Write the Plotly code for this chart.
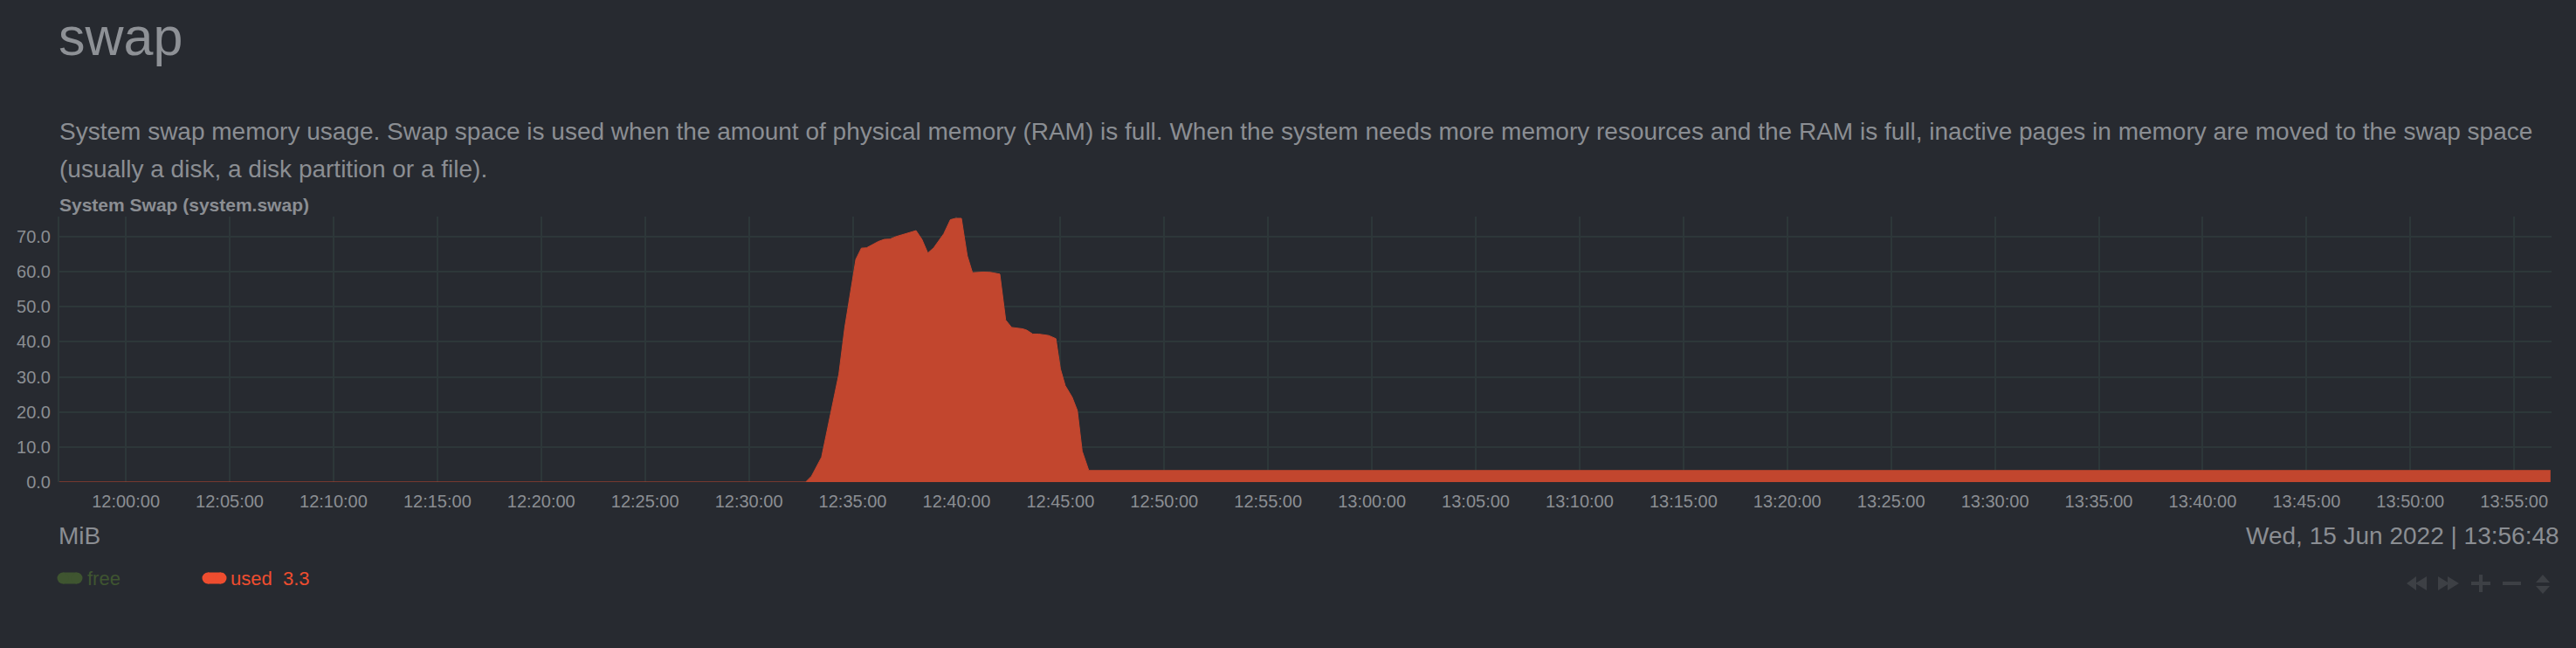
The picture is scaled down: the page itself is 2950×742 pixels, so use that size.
import plotly.graph_objects as go

# ---------------- data ----------------
used_times = [
    "2022-06-15 11:56:48", "2022-06-15 12:32:44", "2022-06-15 12:33:01", "2022-06-15 12:33:30",
    "2022-06-15 12:34:20", "2022-06-15 12:34:37", "2022-06-15 12:35:09", "2022-06-15 12:35:25",
    "2022-06-15 12:35:40", "2022-06-15 12:36:14", "2022-06-15 12:36:31", "2022-06-15 12:36:48",
    "2022-06-15 12:37:05", "2022-06-15 12:37:30", "2022-06-15 12:38:03", "2022-06-15 12:38:20",
    "2022-06-15 12:38:37", "2022-06-15 12:38:54", "2022-06-15 12:39:23", "2022-06-15 12:39:42",
    "2022-06-15 12:39:57", "2022-06-15 12:40:14", "2022-06-15 12:40:31", "2022-06-15 12:40:46",
    "2022-06-15 12:41:17", "2022-06-15 12:41:38", "2022-06-15 12:42:05", "2022-06-15 12:42:22",
    "2022-06-15 12:42:39", "2022-06-15 12:43:11", "2022-06-15 12:43:23", "2022-06-15 12:43:40",
    "2022-06-15 12:43:57", "2022-06-15 12:44:26", "2022-06-15 12:44:47", "2022-06-15 12:45:00",
    "2022-06-15 12:45:14", "2022-06-15 12:45:34", "2022-06-15 12:45:49", "2022-06-15 12:46:03",
    "2022-06-15 12:46:22", "2022-06-15 13:56:45",
]
used_values = [
    0.0, 0.0, 1.7, 7.1,
    30.8, 44.1, 63.5, 66.7,
    66.8, 68.6, 69.2, 69.3,
    70.0, 70.8, 71.7, 69.2,
    65.3, 66.8, 70.8, 74.8,
    75.2, 75.2, 64.5, 59.7,
    59.9, 59.8, 59.3, 46.2,
    44.1, 43.7, 43.3, 42.2,
    42.2, 41.8, 40.9, 32.3,
    27.5, 24.2, 20.4, 8.8,
    3.3, 3.3,
]
x_range = ["2022-06-15 11:56:48", "2022-06-15 13:56:48"]
y_range = [0, 75.7]
legend_names = ["free", "used"]
legend_value_used = "3.3"

# ---------------- style ----------------
W, H = 2950, 742
L, R, T, B = 68, 2922, 248, 552
BG = "#272a30"
GRID = "#2d3739"
TXT = "#8b8e93"
FILL = "#c2462e"
USED_C = "#ee4d2f"
FREE_C = "#3f5530"
CTRL = "#3d4045"
FONT = "Liberation Sans, Arial, Helvetica, sans-serif"


def px(x):
    return (x - L) / (R - L)


def py(y):
    return (B - y) / (B - T)


fig = go.Figure()
fig.add_trace(go.Scatter(
    x=used_times, y=used_values, mode="lines", fill="tozeroy",
    line=dict(color=FILL, width=1), fillcolor=FILL, name="used",
    showlegend=False, hoverinfo="x+y",
))

annotations = [
    dict(text="swap", x=px(65), y=py(42), xanchor="left", yanchor="middle",
         font=dict(size=61, color="#8e9196", family=FONT)),
    dict(text="System swap memory usage. Swap space is used when the amount of physical memory (RAM) is full. "
              "When the system needs more memory resources and the RAM is full, inactive pages in memory are moved to the swap space",
         x=px(66), y=py(150), xanchor="left", yanchor="middle",
         font=dict(size=28, color=TXT, family=FONT)),
    dict(text="(usually a disk, a disk partition or a file).",
         x=px(66), y=py(193), xanchor="left", yanchor="middle",
         font=dict(size=28, color=TXT, family=FONT)),
    dict(text="<b>System Swap (system.swap)</b>", x=px(66), y=py(234), xanchor="left", yanchor="middle",
         font=dict(size=21, color=TXT, family=FONT)),
    dict(text="MiB", x=px(65), y=py(613), xanchor="left", yanchor="middle",
         font=dict(size=28, color=TXT, family=FONT)),
    dict(text="Wed, 15 Jun 2022 | 13:56:48", x=px(2933), y=py(613), xanchor="right", yanchor="middle",
         font=dict(size=28, color=TXT, family=FONT)),
    dict(text=legend_names[0], x=px(98), y=py(662), xanchor="left", yanchor="middle",
         font=dict(size=22, color=FREE_C, family=FONT)),
    dict(text=legend_names[1] + "&nbsp;&nbsp;" + legend_value_used, x=px(262), y=py(662), xanchor="left",
         yanchor="middle", font=dict(size=22, color=USED_C, family=FONT)),
]

shapes = []
# legend chips
for (x0, x1, c) in [(66, 94, FREE_C), (232, 259, USED_C)]:
    shapes.append(dict(type="line", xref="paper", yref="paper", x0=px(x0 + 6), x1=px(x1 - 6),
                       y0=py(662), y1=py(662), line=dict(color=c, width=13)))
    for cx in (x0 + 6, x1 - 6):
        shapes.append(dict(type="circle", xref="paper", yref="paper", x0=px(cx - 6.5), x1=px(cx + 6.5),
                           y0=py(668.5), y1=py(655.5), fillcolor=c, line=dict(width=0)))


def tri(points):
    d = "M " + " L ".join(f"{px(a)},{py(b)}" for a, b in points) + " Z"
    return dict(type="path", xref="paper", yref="paper", path=d, fillcolor=CTRL, line=dict(width=0))


# navigation controls (decorative, dim)
cy = 668
shapes += [
    tri([(2756, cy), (2767, cy - 8), (2767, cy + 8)]),
    tri([(2766, cy), (2779, cy - 8), (2779, cy + 8)]),
    tri([(2792, cy - 8), (2805, cy), (2792, cy + 8)]),
    tri([(2803, cy - 8), (2816, cy), (2803, cy + 8)]),
    dict(type="rect", xref="paper", yref="paper", x0=px(2830), x1=px(2852), y0=py(cy + 2), y1=py(cy - 2),
         fillcolor=CTRL, line=dict(width=0)),
    dict(type="rect", xref="paper", yref="paper", x0=px(2839), x1=px(2843), y0=py(cy + 10), y1=py(cy - 10),
         fillcolor=CTRL, line=dict(width=0)),
    dict(type="rect", xref="paper", yref="paper", x0=px(2866), x1=px(2887), y0=py(cy + 2), y1=py(cy - 2),
         fillcolor=CTRL, line=dict(width=0)),
    tri([(2904, cy - 1), (2912, cy - 10), (2920, cy - 1)]),
    tri([(2904, cy + 3), (2912, cy + 12), (2920, cy + 3)]),
]

fig.update_layout(
    width=W, height=H,
    margin=dict(l=L, r=W - R, t=T, b=H - B, pad=0),
    paper_bgcolor=BG, plot_bgcolor=BG,
    font=dict(family=FONT, color=TXT),
    showlegend=False,
    annotations=[dict(a, xref="paper", yref="paper", showarrow=False) for a in annotations],
    shapes=shapes,
    xaxis=dict(
        type="date", range=x_range, dtick=300000, tick0="2022-06-15 12:00:00",
        tickformat="%H:%M:%S", showgrid=True, gridcolor=GRID, gridwidth=2,
        zeroline=False, showline=False, ticks="", ticklabelstandoff=8,
        tickfont=dict(size=20, color=TXT, family=FONT),
    ),
    yaxis=dict(
        range=y_range, dtick=10, tick0=0, tickformat=".1f", showgrid=True,
        gridcolor=GRID, gridwidth=2, zeroline=False, showline=True, linecolor=GRID, linewidth=2,
        ticks="", ticklabelstandoff=4,
        tickfont=dict(size=20, color=TXT, family=FONT),
    ),
)

fig.write_html(
    "out.html",
    config={"displayModeBar": False},
    post_script="document.body.style.margin='0';document.body.style.background='" + BG + "';",
)
